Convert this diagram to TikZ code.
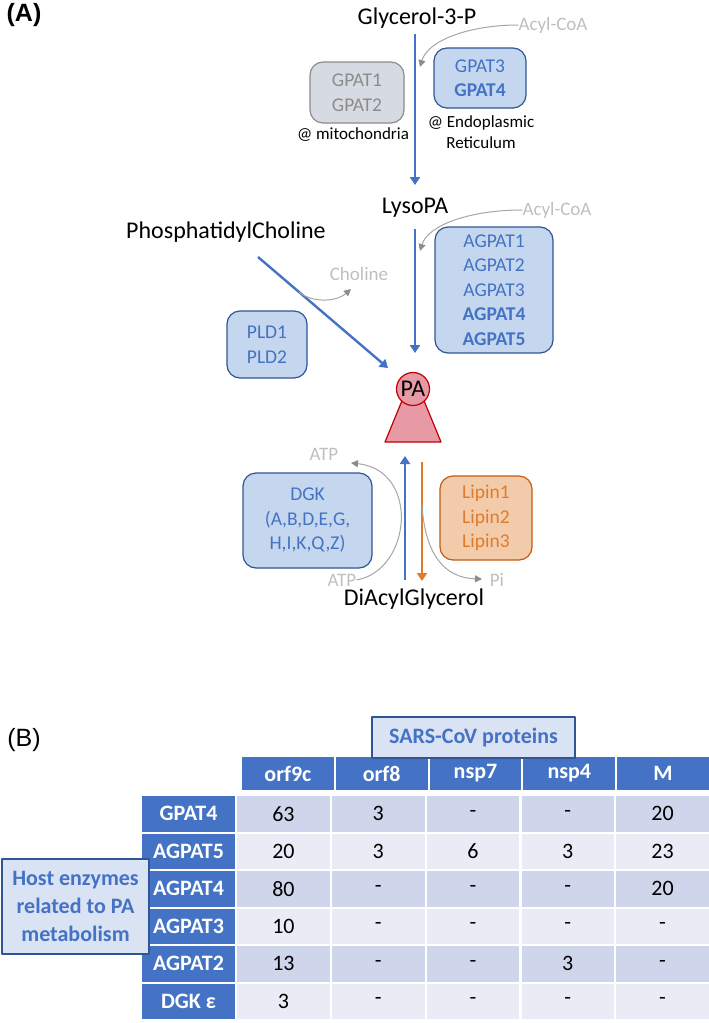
\documentclass[tikz,border=0pt]{standalone}
\usepackage{fontspec}
\setmainfont{Carlito}
\newfontfamily\panelfont{Liberation Sans}
\usetikzlibrary{arrows.meta}

\definecolor{pathblue}{HTML}{4472C4}
\definecolor{boxedge}{HTML}{2F5597}
\definecolor{boxfill}{HTML}{C5D7EE}
\definecolor{greyfill}{HTML}{D6DAE2}
\definecolor{greyedge}{HTML}{8C8C8C}
\definecolor{cofac}{HTML}{BFBFBF}
\definecolor{arcgrey}{HTML}{A6A6A6}
\definecolor{lipinline}{HTML}{E17B2C}
\definecolor{lipinfill}{HTML}{F2CBAA}
\definecolor{lipinedge}{HTML}{C55A11}
\definecolor{pafill}{HTML}{E899A6}
\definecolor{paedge}{HTML}{C00000}
\definecolor{rowdark}{HTML}{CFD5EA}
\definecolor{rowlight}{HTML}{E9EBF5}
\definecolor{titlefill}{HTML}{DAE3F3}

\tikzset{
  metab/.style={font=\fontsize{24}{28}\selectfont, inner sep=0pt},
  cofactor/.style={text=cofac, font=\fontsize{19}{23}\selectfont, inner sep=0pt},
  location/.style={font=\fontsize{17}{21}\selectfont, align=center, inner sep=0pt},
  enzbox/.style={draw=boxedge, fill=boxfill, text=pathblue, line width=1.2pt, rounded corners=13pt,
    align=center, inner sep=0pt, font=\fontsize{19.5}{24.5}\selectfont},
  offbox/.style={enzbox, draw=greyedge, fill=greyfill, text=greyedge},
  lipbox/.style={enzbox, draw=lipinedge, fill=lipinfill, text=lipinline},
  flux/.style={draw=pathblue, line width=2.4pt, -{Triangle[width=10pt,length=8pt]}},
  backflux/.style={flux, draw=lipinline},
  side/.style={draw=arcgrey, line width=1pt, -{Triangle[width=7pt,length=7pt,color=greyedge]}},
  cell/.style={draw=white, line width=2pt, minimum width=94.6pt, minimum height=37.5pt,
    inner sep=0pt, font=\fontsize{22}{26}\selectfont},
  headcell/.style={cell, fill=pathblue, text=white, font=\fontsize{22}{26}\selectfont\bfseries},
  tabtitle/.style={draw=boxedge, fill=titlefill, text=pathblue, line width=1.2pt, align=center,
    inner sep=0pt, font=\fontsize{22}{28}\selectfont\bfseries}
}

\begin{document}
\begin{tikzpicture}[x=1pt,y=-1pt,line join=round]
\useasboundingbox (0,0) rectangle (709,1023);

% (A) pathway
\node[font={\fontsize{25}{28}\selectfont\panelfont\bfseries}] (tagA) at (24,15) {(A)};

\node[metab] (g3p) at (417,18) {Glycerol-3-P};
\node[metab] (lysopa) at (415,208) {LysoPA};
\node[metab] (pc) at (226,232) {PhosphatidylCholine};
\node[metab] (dag) at (414,599) {DiAcylGlycerol};

\node[cofactor] (acyl1) at (553,25) {Acyl-CoA};
\node[cofactor] (acyl2) at (557,210) {Acyl-CoA};
\node[cofactor] (choline) at (359,274) {Choline};
\node[cofactor] (atpup) at (324,454) {ATP};
\node[cofactor] (atpdn) at (342,580) {ATP};
\node[cofactor] (pi) at (497,580) {Pi};

\node[offbox, minimum width=94pt, minimum height=61pt] (gpat12) at (357,92.5) {GPAT1\\GPAT2};
\node[location] (mito) at (353,135) {@ mitochondria};
\node[enzbox, minimum width=92pt, minimum height=60pt] (gpat34) at (480,78) {GPAT3\\\textbf{GPAT4}};
\node[location] (er) at (481,132) {@ Endoplasmic\\Reticulum};
\node[enzbox, minimum width=118pt, minimum height=126pt] (agpat) at (494,290)
  {AGPAT1\\AGPAT2\\AGPAT3\\\textbf{AGPAT4}\\\textbf{AGPAT5}};
\node[enzbox, minimum width=80pt, minimum height=67pt] (pld) at (267,344.5) {PLD1\\PLD2};
\node[enzbox, minimum width=129pt, minimum height=95pt] (dgk) at (307.5,520.5) {DGK\\(A,B,D,E,G,\\H,I,K,Q,Z)};
\node[lipbox, minimum width=92pt, minimum height=84pt] (lipin) at (486,518) {Lipin1\\Lipin2\\Lipin3};

% PA
\path (385,442) coordinate (pabl) (441,442) coordinate (pabr) (413,374) coordinate (patop);
\draw[draw=paedge, fill=pafill, line width=1.2pt] (pabl) -- (pabr) -- (patop) -- cycle;
\node[circle, draw=paedge, fill=pafill, line width=1.2pt, minimum size=33pt, inner sep=0pt,
  font=\fontsize{24}{26}\selectfont] (pa) at (413,389) {PA};

% fluxes
\path (415,34) coordinate (g3p-out) (415,185) coordinate (lyso-in)
      (415,229) coordinate (lyso-out) (415,353) coordinate (pa-in)
      (258,257) coordinate (pc-out) (388,368) coordinate (pa-pc)
      (405,580) coordinate (dag-up) (405,456) coordinate (pa-up)
      (422,462) coordinate (pa-down) (422,581) coordinate (dag-down);
\draw[flux] (g3p-out) -- (lyso-in);
\draw[flux] (lyso-out) -- (pa-in);
\draw[flux] (pc-out) -- (pa-pc);
\draw[flux] (dag-up) -- (pa-up);
\draw[backflux] (pa-down) -- (dag-down);

% side reactions
\draw[side] (acyl1.west) .. controls (470,25) and (428,40) .. (420,67);
\draw[side] (acyl2.west) .. controls (470,210) and (428,225) .. (420,251);
\draw[side] (299,292) .. controls (310,302) and (335,303) .. (351,289);
\draw[side] (atpdn.east) .. controls (412,570) and (420,470) .. (351,463);
\draw[side] (422,505) .. controls (425,555) and (445,578) .. (482,579);

% (B) table
\node[font={\fontsize{25}{28}\selectfont\panelfont}] (tagB) at (24,740) {(B)};
\foreach \h [count=\k] in {orf9c,orf8,nsp7,nsp4,M}
  \node[headcell, minimum width=93.8pt, minimum height=35pt] (head\k) at ({241+93.8*(\k-0.5)},773.5) {\h};
\foreach \lab/\f/\a/\b/\c/\d/\e [count=\r] in {GPAT4/rowdark/63/3/-/-/20,
    AGPAT5/rowlight/20/3/6/3/23, AGPAT4/rowdark/80/-/-/-/20, AGPAT3/rowlight/10/-/-/-/-,
    AGPAT2/rowdark/13/-/-/3/-, DGK ε/rowlight/3/-/-/-/-}{
  \node[headcell] (lab\r) at (188.5,{795+37.5*(\r-0.5)}) {\lab};
  \foreach \v [count=\k] in {\a,\b,\c,\d,\e}
    \node[cell, fill=\f] (c\r-\k) at ({236+94.8*(\k-0.5)},{795+37.5*(\r-0.5)}) {\v};
}
\node[tabtitle, minimum width=203pt, minimum height=41pt] (sars) at (473.5,737.5) {SARS-CoV proteins};
\node[tabtitle, minimum width=147pt, minimum height=95pt] (host) at (75.5,906.5)
  {Host enzymes\\related to PA\\metabolism};
\end{tikzpicture}
\end{document}
